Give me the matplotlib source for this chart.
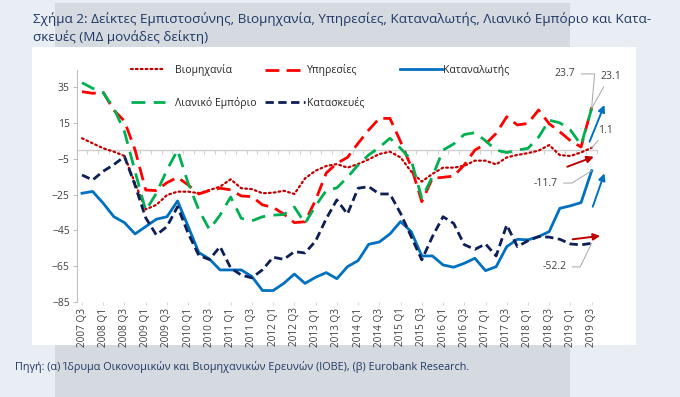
import numpy as np
import matplotlib
matplotlib.use("Agg")
import matplotlib.pyplot as plt
from matplotlib.patches import Rectangle

plt.rcParams['font.family'] = ['Open Sans', 'DejaVu Sans']

# ---------------- data ----------------
quarters = ["2007 Q3", "2007 Q4"] + [f"{y} Q{q}" for y in range(2008, 2019) for q in range(1, 5)] + ["2019 Q1", "2019 Q2", "2019 Q3"]
tick_labels = quarters[::2]

industry = [6.4, 3.6, 0.8, -1.1, -3.5, -18.8, -33.3, -30.8, -25.3, -23.4, -23.4, -24.3, -22.5,
            -20.6, -16.5, -21.5, -22.0, -24.3, -24.0, -22.9, -24.7, -16.0, -11.7, -9.1, -8.0,
            -10.0, -8.0, -5.4, -2.4, -1.1, -4.3, -12.2, -17.8, -13.5, -10.0, -10.0, -9.0,
            -6.1, -6.1, -8.2, -4.3, -2.9, -1.9, -0.5, 2.6, -3.0, -3.5, -1.5, 1.1]
services = [32.4, 31.5, 32.0, 22.0, 16.0, -0.2, -22.5, -22.8, -18.4, -15.4, -19.7, -24.7, -22.8,
            -21.5, -22.4, -25.8, -26.2, -30.8, -32.2, -35.9, -40.7, -40.2, -28.1, -13.0, -7.6,
            -4.3, 3.6, 11.0, 17.5, 17.5, 4.5, -9.5, -29.0, -16.0, -15.4, -14.7, -8.5,
            -0.2, 3.2, 9.1, 18.4, 13.8, 14.7, 22.2, 14.5, 10.0, 5.0, 1.5, 23.7]
consumer = [-24.3, -23.3, -29.9, -37.4, -40.7, -47.0, -42.9, -38.8, -37.4, -28.6, -42.9, -57.4, -61.0,
            -67.1, -67.1, -67.1, -70.8, -78.6, -78.6, -74.6, -69.4, -74.6, -71.2, -68.6, -72.0,
            -65.3, -61.9, -52.8, -51.5, -47.0, -40.1, -45.7, -59.3, -59.3, -64.3, -65.6, -63.4,
            -60.6, -67.5, -65.3, -54.1, -50.0, -50.3, -48.5, -45.7, -32.7, -31.3, -29.5, -11.7]
retail = [37.4, 34.3, 31.8, 23.1, 10.1, -12.2, -34.0, -24.3, -11.3, -0.2, -18.8, -33.6, -44.5,
          -36.5, -26.4, -38.3, -39.7, -37.4, -36.5, -36.2, -32.0, -41.1, -31.3, -22.8, -21.3,
          -15.4, -8.5, -2.9, 1.3, 6.4, 0.8, -5.7, -27.1, -15.0, -0.2, 3.2, 8.5,
          9.5, 5.0, -0.2, -1.6, -0.2, 0.8, 7.0, 16.5, 15.0, 11.0, 2.6, 23.1]
construction = [-14.1, -16.9, -12.0, -8.3, -3.8, -20.0, -38.0, -47.6, -42.9, -31.8, -46.7, -59.0, -61.3,
                -54.1, -66.0, -70.0, -71.5, -67.0, -60.0, -61.2, -56.9, -57.6, -51.0, -38.5, -28.0,
                -35.9, -21.5, -20.6, -24.7, -24.7, -35.5, -48.5, -61.5, -48.5, -37.4, -41.1, -53.0,
                -55.6, -52.6, -59.3, -42.0, -54.1, -50.8, -48.5, -48.8, -50.0, -52.6, -53.1, -52.2]

series_names = ["Βιομηχανία", "Υπηρεσίες", "Καταναλωτής", "Λιανικό Εμπόριο", "Κατασκευές"]
last_labels = ["23.7", "23.1", "1.1", "-11.7", "-52.2"]

title1 = "Σχήμα 2: Δείκτες Εμπιστοσύνης, Βιομηχανία, Υπηρεσίες, Καταναλωτής, Λιανικό Εμπόριο και Κατα-"
title2 = "σκευές (ΜΔ μονάδες δείκτη)"
source = "Πηγή: (α) Ίδρυμα Οικονομικών και Βιομηχανικών Ερευνών (ΙΟΒΕ), (β) Eurobank Research."

# ---------------- figure ----------------
W, H = 680, 397
fig = plt.figure(figsize=(W / 100, H / 100), dpi=100)
fig.patch.set_facecolor('#e9edf4')

def fx(x): return x / W
def fy(y): return 1 - y / H

fig.add_artist(Rectangle((fx(55), 0), fx(570) - fx(55), fy(3), transform=fig.transFigure,
                         facecolor='#d5dae1', edgecolor='none', zorder=0))
fig.add_artist(Rectangle((fx(32), fy(345)), fx(636) - fx(32), fy(47) - fy(345), transform=fig.transFigure,
                         facecolor='white', edgecolor='none', zorder=0.5))

navy_txt = '#1f3864'
fig.text(fx(33), fy(19), title1, fontsize=9.7, color=navy_txt, va='center', ha='left')
fig.text(fx(33), fy(37), title2, fontsize=9.7, color=navy_txt, va='center', ha='left')
fig.text(fx(15), fy(367), source, fontsize=7.8, color=navy_txt, va='center', ha='left')

ymin, ymax = -85, 44.5
ax = fig.add_axes([fx(76.7), fy(302), fx(597) - fx(76.7), fy(70) - fy(302)])
ax.set_facecolor('none')
ax.set_zorder(2)
x = np.arange(len(quarters))

# zero axis line with boundary ticks
zero_col = '#d0d0d0'
sec = ax.secondary_xaxis((0 - ymin) / (ymax - ymin))
sec.xaxis.set_ticks_position('bottom')
sec.set_xticks(np.arange(-0.5, 49, 1))
sec.set_xticklabels([])
sec.tick_params(axis='x', which='both', direction='out', length=3, color=zero_col, width=0.8)
for sp in sec.spines.values():
    sp.set_color(zero_col)
    sp.set_linewidth(1.0)

c_ind, c_srv, c_con, c_ret, c_cst = '#c00000', '#ff0000', '#0070c0', '#00b050', '#0d1f55'
l_ind, = ax.plot(x, industry, color=c_ind, lw=1.6, linestyle=(0, (0.8, 1.4)), dash_capstyle='round')
l_srv, = ax.plot(x, services, color=c_srv, lw=2.0, linestyle=(0, (5, 2.6)))
l_con, = ax.plot(x, consumer, color=c_con, lw=2.0)
l_ret, = ax.plot(x, retail, color=c_ret, lw=2.0, linestyle=(0, (5, 3)))
l_cst, = ax.plot(x, construction, color=c_cst, lw=2.0, linestyle=(0, (3, 1.6)))

ax.set_xlim(-0.5, 48.5)
ax.set_ylim(ymin, ymax)
for s in ['top', 'right', 'bottom']:
    ax.spines[s].set_visible(False)
ax.spines['left'].set_color('#bfbfbf')
ax.spines['left'].set_linewidth(0.8)
ax.set_yticks([35, 15, -5, -25, -45, -65, -85])
ax.tick_params(axis='y', length=3, color='#bfbfbf', labelsize=7.5, labelcolor='#404040', pad=2)
ax.set_xticks(x[::2])
ax.set_xticklabels(tick_labels, rotation=90, fontsize=7.2, color='#404040')
ax.tick_params(axis='x', length=2, color='#d9d9d9', pad=2)

# legends (three columns)
leg_kw = dict(frameon=False, fontsize=7.5, borderpad=0, borderaxespad=0, labelspacing=2.0,
              loc='center left', labelcolor='#262626')
fig.legend([l_ind, l_ret], [series_names[0], series_names[3]], bbox_to_anchor=(fx(131), fy(86.5)),
           handlelength=3.3, handletextpad=0.9, **leg_kw)
fig.legend([l_srv, l_cst], [series_names[1], series_names[4]], bbox_to_anchor=(fx(265), fy(86.5)),
           handlelength=3.8, handletextpad=0.2, **leg_kw)
fig.legend([l_con], [series_names[2]], bbox_to_anchor=(fx(400), fy(70)),
           handlelength=4.0, handletextpad=0.15, **leg_kw)

# end-value labels with leader lines
last = len(quarters) - 1
grey = '#a6a6a6'
ann = [
    (services[-1], last_labels[0], (45.5, 42.3), "angle,angleA=0,angleB=85,rad=0", (1, 0.5)),
    (retail[-1], last_labels[1], (49.8, 41.1), "arc3", (0.3, 0)),
    (industry[-1], last_labels[2], (49.3, 11.0), "arc3", (0.3, 0)),
    (consumer[-1], last_labels[3], (43.7, -18.6), "angle,angleA=0,angleB=32,rad=0", (1, 0.5)),
    (construction[-1], last_labels[4], (44.5, -65.4), "angle,angleA=0,angleB=64,rad=0", (1, 0.5)),
]
for val, lab, xytext, cs, rp in ann:
    ax.annotate(lab, xy=(last, val), xytext=xytext, textcoords='data', fontsize=7.5, color='#404040',
                ha='center', va='center', annotation_clip=False,
                arrowprops=dict(arrowstyle='-', color=grey, lw=0.7, connectionstyle=cs,
                                relpos=rp, shrinkA=2, shrinkB=0))

# direction arrows
arrows = [
    (c_con, (47.8, 4.5), (49.2, 25.0)),
    (c_con, (48.1, -31.8), (49.2, -13.2)),
    ('#c00000', (45.7, -9.5), (48.2, -3.9)),
    ('#c00000', (46.2, -50.0), (48.8, -48.1)),
]
for col, p0, p1 in arrows:
    ax.annotate('', xy=p1, xytext=p0, annotation_clip=False,
                arrowprops=dict(arrowstyle='-|>', color=col, lw=1.4, mutation_scale=10,
                                shrinkA=0, shrinkB=0))

fig.savefig('out.png', dpi=100, facecolor=fig.get_facecolor())
